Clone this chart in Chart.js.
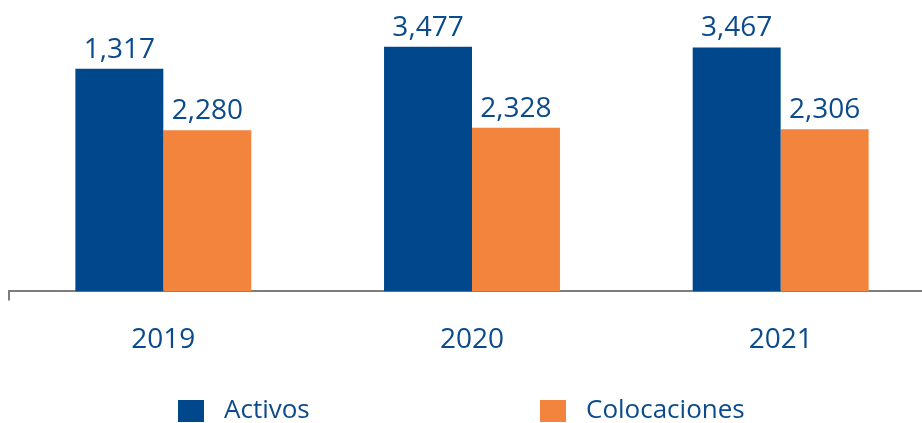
<!DOCTYPE html>
<html>
<head>
<meta charset="utf-8">
<script src="https://cdn.jsdelivr.net/npm/chart.js@4"></script>
<style>
  html, body { margin: 0; padding: 0; background: #ffffff; overflow: hidden; }
  #wrap { position: relative; width: 935px; height: 423px; }
</style>
</head>
<body>
<div id="wrap"><canvas id="c"></canvas></div>
<script>
const categories = ["2019", "2020", "2021"];
const seriesNames = ["Activos", "Colocaciones"];
// bar heights as drawn in the picture
const activos = [3165, 3477, 3467];
const colocaciones = [2290, 2328, 2306];
// value labels as printed above the bars
const activosLabels = ["1,317", "3,477", "3,467"];
const colocacionesLabels = ["2,280", "2,328", "2,306"];

const NAVY = "#00488B";
const ORANGE = "#F2843D";
const TEXT = "#0B4A8B";
const AXIS = "#7d7d7d";
const FONT = "'Open Sans', 'DejaVu Sans', sans-serif";

const valueLabels = {
  id: "valueLabels",
  afterDatasetsDraw(chart) {
    const ctx = chart.ctx;
    ctx.save();
    ctx.font = "28px " + FONT;
    ctx.fillStyle = TEXT;
    ctx.textAlign = "center";
    ctx.textBaseline = "alphabetic";
    chart.data.datasets.forEach((ds, di) => {
      const meta = chart.getDatasetMeta(di);
      meta.data.forEach((bar, i) => {
        ctx.fillText(ds.valueText[i], bar.x, bar.y - 11);
      });
    });
    ctx.restore();
  }
};

const customLegend = {
  id: "customLegend",
  afterDraw(chart, args, opts) {
    const ctx = chart.ctx;
    ctx.save();
    ctx.font = "26px " + FONT;
    ctx.textAlign = "left";
    ctx.textBaseline = "middle";
    chart.data.datasets.forEach((ds, di) => {
      const x = opts.xs[di];
      ctx.fillStyle = ds.backgroundColor;
      ctx.fillRect(x, opts.y - 11, 26, 22);
      ctx.fillStyle = TEXT;
      ctx.fillText(ds.label, x + 46, opts.y);
    });
    ctx.restore();
  }
};

new Chart(document.getElementById("c"), {
  type: "bar",
  data: {
    labels: categories,
    datasets: [
      { label: seriesNames[0], data: activos, valueText: activosLabels, backgroundColor: NAVY },
      { label: seriesNames[1], data: colocaciones, valueText: colocacionesLabels, backgroundColor: ORANGE }
    ]
  },
  options: {
    responsive: true,
    maintainAspectRatio: false,
    animation: false,
    layout: { padding: { left: 9, right: 0, top: 10, bottom: 43 } },
    datasets: { bar: { categoryPercentage: 0.57, barPercentage: 1.0, borderWidth: 0 } },
    scales: {
      x: {
        grid: {
          display: true,
          drawOnChartArea: false,
          drawTicks: true,
          tickLength: 9,
          lineWidth: 2,
          color: (c) => (c.index === 0 ? AXIS : "rgba(0,0,0,0)")
        },
        border: { display: true, color: AXIS, width: 2 },
        ticks: { color: TEXT, font: { family: FONT, size: 28 }, padding: 23 }
      },
      y: { display: false, min: 0, max: 4000 }
    },
    plugins: {
      legend: { display: false },
      tooltip: { enabled: false },
      customLegend: { xs: [178, 540], y: 411 }
    }
  },
  plugins: [valueLabels, customLegend]
});
</script>
</body>
</html>
